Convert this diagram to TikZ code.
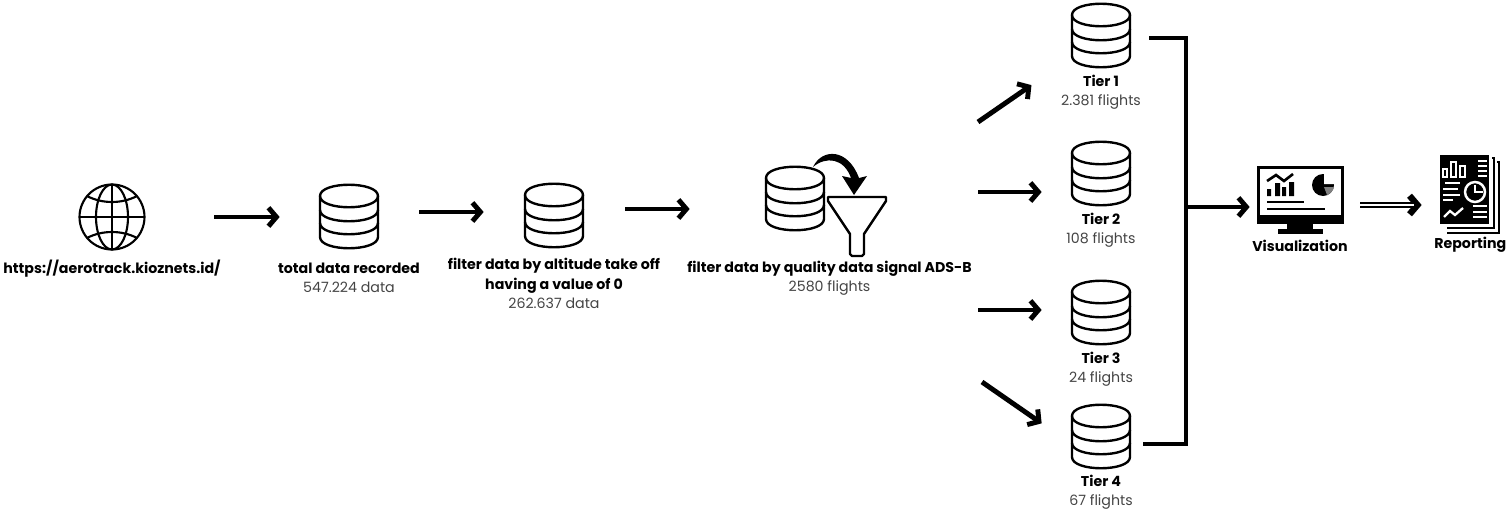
\documentclass[tikz,border=0pt]{standalone}
\usepackage{fontspec}
\setmainfont{Poppins}
\usetikzlibrary{arrows.meta,positioning,calc}
\definecolor{countgray}{HTML}{444444}
\newcommand{\cnt}[1]{{\normalfont\color{countgray}#1}}
\tikzset{
iconbox/.style 2 args = {inner sep=0pt, minimum width=#1*0.567pt, minimum height=#2*0.567pt},
lbl/.style = {inner sep=0pt, align=center, font=\fontsize{8.05}{10.8}\selectfont\bfseries},
flow/.style = {line width=2.8pt, -{Straight Barb[length=4.5pt,width=10.5pt]}},
bus/.style = {line width=2.8pt},
dbicon/.pic = {
    \draw[line width=1.35pt, line join=round] (-29,-21) .. controls (-29,-36) and (29,-36) .. (29,-21) -- (29,20) .. controls (29,35) and (-29,35) .. (-29,20) -- cycle;
    \draw[line width=1.35pt] (-29,-21) .. controls (-29,-6) and (29,-6) .. (29,-21);
    \draw[line width=1.35pt] (-29,-7) .. controls (-29,8) and (29,8) .. (29,-7);
    \draw[line width=1.35pt] (-29,6) .. controls (-29,21) and (29,21) .. (29,6);
},
globeicon/.pic = {
    \draw[line width=1.2pt] (0,0) circle [radius=32.5];
    \draw[line width=1.2pt] (0,0) ellipse [x radius=16, y radius=32.5];
    \draw[line width=1.2pt] (0,-32.5) -- (0,32.5) (-32.5,0) -- (32.5,0);
    \draw[line width=1.2pt] (-25,-21) .. controls (-10,-13) and (10,-13) .. (25,-21);
    \draw[line width=1.2pt] (-25,21) .. controls (-10,13) and (10,13) .. (25,21);
},
funnelicon/.pic = {
    \draw[line width=1.35pt, line join=round] (-29,-9) -- (29,-9) -- (29,-5) -- (7,28) -- (7,48) -- (5,50) -- (-5,50) -- (-7,48) -- (-7,28) -- (-29,-5) -- cycle;
},
monitoricon/.pic = {
    \draw[line width=1.7pt] (-42,-33) rectangle (42,22);
    \fill (-43,15) rectangle (43,23);
    \fill (-13,23) rectangle (13,30);
    \fill (-22,29) rectangle (23,34);
    \draw[line width=1.5pt] (-33,-19) -- (-24,-25) -- (-16,-19) -- (-7,-26);
    \fill (-33,-11) rectangle (-29,-4) (-25,-17) rectangle (-20,-4) (-18,-13) rectangle (-14,-4) (-11,-18) rectangle (-6,-4);
    \fill (23,-15) circle [radius=11];
    \fill[white] (24,-16) -- (24,-27) .. controls (30,-27) and (35,-22) .. (35,-16) -- cycle;
    \fill[gray] (24,-13) -- (34,-13) .. controls (33,-9) and (30,-6) .. (27,-5) -- cycle;
    \draw[line width=1.3pt] (-33,2) -- (4,2) (-33,9) -- (25,9);
},
reporticon/.pic = {
    \fill (-25,-35) rectangle (24,34);
    \draw[line width=1.2pt] (27,-32) -- (29,-32) -- (29,38) -- (-18,38);
    \draw[line width=1.2pt] (32,-28) -- (34,-28) -- (34,43) -- (-18,43);
    \draw[white, line width=1pt] (-22,-21) rectangle (-18,-13) (-14,-28) rectangle (-9,-13) (-5,-24) rectangle (0,-13);
    \draw[white, line width=1.1pt] (13,-29) -- (22,-29) (13,-24) -- (22,-24) (13,-19) -- (22,-19) (13,-14) -- (22,-14);
    \draw[white, line width=1.1pt] (-20,-7) -- (-5,-7) (-22,-1) -- (-7,-1) (-22,5) -- (-5,5) (-22,10) -- (-12,10);
    \draw[white, line width=1.4pt] (10,2) circle [radius=10];
    \draw[white, line width=1.3pt] (10,-5) -- (10,2) -- (18,2);
    \draw[white, line width=1.3pt] (-21,27) -- (-15,21) -- (-10,25) -- (-2,18);
    \draw[white, line width=1.1pt] (8,16) -- (22,16) (8,22) -- (22,22) (8,27) -- (22,27);
}
}
\begin{document}
\begin{tikzpicture}[x=0.567pt,y=-0.567pt]
    \useasboundingbox (0,0) rectangle (1509,512);

    \node[iconbox={66}{66}] (web) at (112,217) {};
    \node[iconbox={60}{64}] (db1) at (349,217) {};
    \node[iconbox={60}{64}] (db2) at (554,216) {};
    \node[iconbox={122}{100}] (filter) at (826,206) {};
    \node[iconbox={60}{64}] (tier1) at (1101,36) {};
    \node[iconbox={60}{64}] (tier2) at (1101,174) {};
    \node[iconbox={60}{64}] (tier3) at (1101,313) {};
    \node[iconbox={60}{64}] (tier4) at (1101,437) {};
    \node[iconbox={88}{68}] (viz) at (1300,200) {};
    \node[iconbox={60}{78}] (report) at (1465,190) {};

    \pic at (web) {globeicon};
    \pic at (db1) {dbicon};
    \pic at (db2) {dbicon};
    \pic at ($(filter)+(-31,-7)$) {dbicon};
    \pic at ($(filter)+(31,0)$) {funnelicon};
    \pic at (tier1) {dbicon};
    \pic at (tier2) {dbicon};
    \pic at (tier3) {dbicon};
    \pic at (tier4) {dbicon};
    \pic at (viz) {monitoricon};
    \pic at (report) {reporticon};

    \fill ($(filter)+(-13,-39)$) .. controls ($(filter)+(-4,-58)$) and ($(filter)+(22,-58)$) .. ($(filter)+(33,-28)$) -- ($(filter)+(41,-30)$) -- ($(filter)+(28,-11)$) -- ($(filter)+(16,-30)$) -- ($(filter)+(25,-28)$) .. controls ($(filter)+(18,-48)$) and ($(filter)+(0,-50)$) .. cycle;

    \node[lbl, below=5pt of web] (webtxt) {https://aerotrack.kioznets.id/};
    \node[lbl, below=7.4pt of db1] (db1txt) {total data recorded\\\cnt{547.224 data}};
    \node[lbl, below=5.6pt of db2] (db2txt) {filter data by altitude take off\\having a value of 0\\\cnt{262.637 data}};
    \node[lbl, below=2.7pt of filter, xshift=2pt] (filtertxt) {filter data by quality data signal ADS-B\\\cnt{2580 flights}};
    \node[lbl, below=3.8pt of tier1] (tier1txt) {Tier 1\\\cnt{2.381 flights}};
    \node[lbl, below=3.8pt of tier2] (tier2txt) {Tier 2\\\cnt{108 flights}};
    \node[lbl, below=3.8pt of tier3] (tier3txt) {Tier 3\\\cnt{24 flights}};
    \node[lbl, below=3.2pt of tier4] (tier4txt) {Tier 4\\\cnt{67 flights}};
    \node[lbl, below=3.2pt of viz] (viztxt) {Visualization};
    \node[lbl, below=4pt of report, xshift=3pt] (reporttxt) {Reporting};

    \coordinate (out1) at (978,122);
    \coordinate (out2) at (978,192);
    \coordinate (out3) at (978,310);
    \coordinate (out4) at (982,382);
    \coordinate (busjoin) at (1186,207);

    \draw[flow] ([shift={(69,0)}]web.east) -- ([shift={(-39,0)}]db1.west);
    \draw[flow] ([shift={(40,-5)}]db1.east) -- ([shift={(-40,-4)}]db2.west);
    \draw[flow] ([shift={(41,-7)}]db2.east) -- ([shift={(-75,3)}]filter.west);
    \draw[flow, shorten >=27pt] (out1) -- (tier1.216);
    \draw[flow] (out2) -- ([xshift=-29*0.567pt]out2 -| tier2.west);
    \draw[flow] (out3) -- ([xshift=-29*0.567pt]out3 -| tier3.west);
    \draw[flow, shorten >=20pt] (out4) -- (tier4.192);

    \draw[bus] ([shift={(18,2)}]tier1.east) -| (busjoin) |- ([shift={(12,7)}]tier4.east);
    \draw[flow] (busjoin) -- ([xshift=-6*0.567pt]busjoin -| viz.west);
    \draw[flow, line width=3.6pt] ([shift={(16,5)}]viz.east) -- ([shift={(-13,15)}]report.west);
    \draw[white, line width=1pt] ([shift={(16,5)}]viz.east) -- ([shift={(-21,15)}]report.west);
\end{tikzpicture}
\end{document}
